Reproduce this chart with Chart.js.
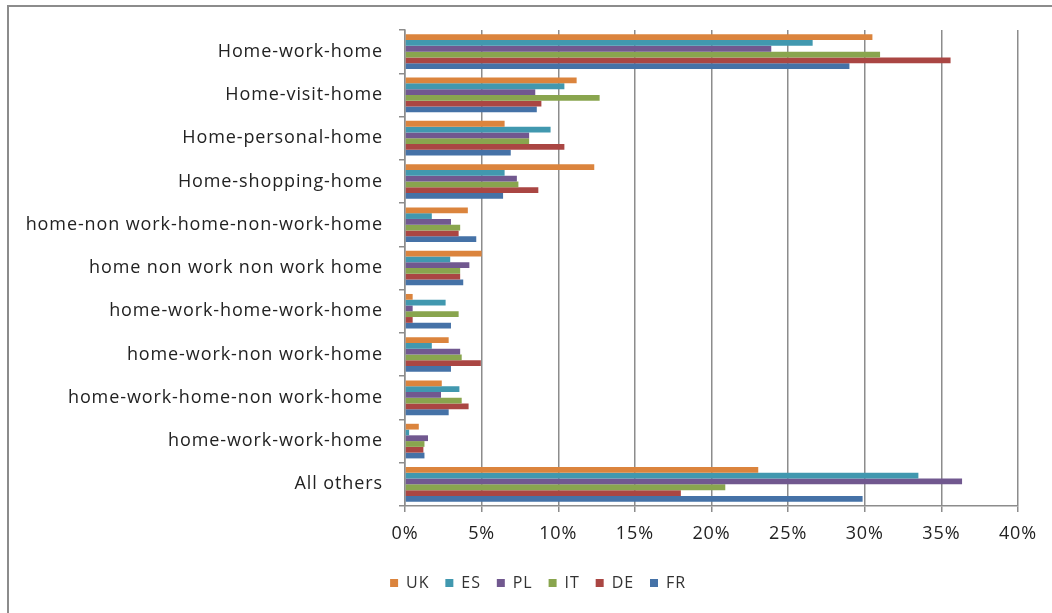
<!DOCTYPE html>
<html>
<head>
<meta charset="utf-8">
<script src="https://cdn.jsdelivr.net/npm/chart.js@4/dist/chart.umd.min.js"></script>
<style>
    body { margin: 0; background: #fff; }
    #wrap { position: relative; width: 1052px; height: 613px; }
    #frame { position: absolute; left: 7px; top: 5px; width: 1060px; height: 620px; border: 2px solid #8c8c8c; box-sizing: border-box; }
    canvas { position: absolute; left: 0; top: 0; }
</style>
</head>
<body>
<div id="wrap">
    <div id="frame"></div>
    <canvas id="chart" width="1052" height="613"></canvas>
</div>
<script>
// Trip chain categories (top to bottom)
const categories = [
    'Home-work-home',
    'Home-visit-home',
    'Home-personal-home',
    'Home-shopping-home',
    'home-non work-home-non-work-home',
    'home non work non work home',
    'home-work-home-work-home',
    'home-work-non work-home',
    'home-work-home-non work-home',
    'home-work-work-home',
    'All others'
];

// Share of trips per country, in %
const ukValues = [30.5, 11.2, 6.5, 12.35, 4.1, 5.0, 0.5, 2.85, 2.4, 0.9, 23.05];
const esValues = [26.6, 10.4, 9.5, 6.5, 1.75, 2.95, 2.65, 1.75, 3.55, 0.27, 33.5];
const plValues = [23.9, 8.5, 8.1, 7.3, 3.0, 4.2, 0.5, 3.6, 2.35, 1.5, 36.35];
const itValues = [31.0, 12.7, 8.1, 7.4, 3.6, 3.6, 3.5, 3.7, 3.7, 1.27, 20.9];
const deValues = [35.6, 8.9, 10.4, 8.7, 3.5, 3.6, 0.5, 4.95, 4.15, 1.2, 18.0];
const frValues = [29.0, 8.6, 6.9, 6.4, 4.65, 3.8, 3.0, 3.0, 2.85, 1.27, 29.86];

const xTicks = [0, 5, 10, 15, 20, 25, 30, 35, 40];

const series = [
    { label: 'UK', data: ukValues, color: '#DB843D' },
    { label: 'ES', data: esValues, color: '#4198AF' },
    { label: 'PL', data: plValues, color: '#71588F' },
    { label: 'IT', data: itValues, color: '#89A54E' },
    { label: 'DE', data: deValues, color: '#AA4643' },
    { label: 'FR', data: frValues, color: '#4572A7' }
];

const fontFamily = '"Open Sans", "Noto Sans", sans-serif';

// the original text is set quite loose, so widen it a bit
const spacing = {
    id: 'spacing',
    beforeUpdate: (chart) => { chart.ctx.letterSpacing = '0.9px'; },
    beforeDraw: (chart) => { chart.ctx.letterSpacing = '0.9px'; }
};

// legend sits a little right of the canvas centre in the original
const legendShift = {
    id: 'legendShift',
    afterLayout: (chart) => {
        chart.legend.left += 29;
        chart.legend.right += 29;
    }
};

new Chart(document.getElementById('chart'), {
    type: 'bar',
    data: {
        labels: categories,
        datasets: series.map((s) => ({
            label: s.label,
            data: s.data,
            backgroundColor: s.color,
            borderWidth: 0,
            categoryPercentage: 0.8,
            barPercentage: 1.0
        }))
    },
    plugins: [spacing, legendShift],
    options: {
        indexAxis: 'y',
        responsive: false,
        animation: false,
        layout: { padding: { top: 30, right: 34, bottom: 12, left: 0 } },
        plugins: {
            tooltip: { enabled: false },
            legend: {
                position: 'bottom',
                labels: {
                    boxWidth: 8,
                    boxHeight: 8,
                    padding: 16,
                    color: '#333',
                    font: { family: fontFamily, size: 16 }
                }
            }
        },
        scales: {
            x: {
                min: 0,
                max: 40,
                afterBuildTicks: (scale) => { scale.ticks = xTicks.map((v) => ({ value: v })); },
                afterFit: (scale) => { scale.height = 53; },
                border: { color: '#8c8c8c', width: 1.5 },
                grid: { color: '#8c8c8c', lineWidth: 1.5, tickLength: 6 },
                ticks: {
                    padding: 11,
                    color: '#222',
                    font: { family: fontFamily, size: 18 },
                    callback: (v) => v + '%'
                }
            },
            y: {
                afterFit: (scale) => { scale.width = 405; },
                border: { color: '#8c8c8c', width: 1.5 },
                grid: { drawOnChartArea: false, color: '#8c8c8c', lineWidth: 1.5, tickLength: 6 },
                ticks: {
                    padding: 16,
                    color: '#222',
                    font: { family: fontFamily, size: 18 }
                }
            }
        }
    }
});
</script>
</body>
</html>
